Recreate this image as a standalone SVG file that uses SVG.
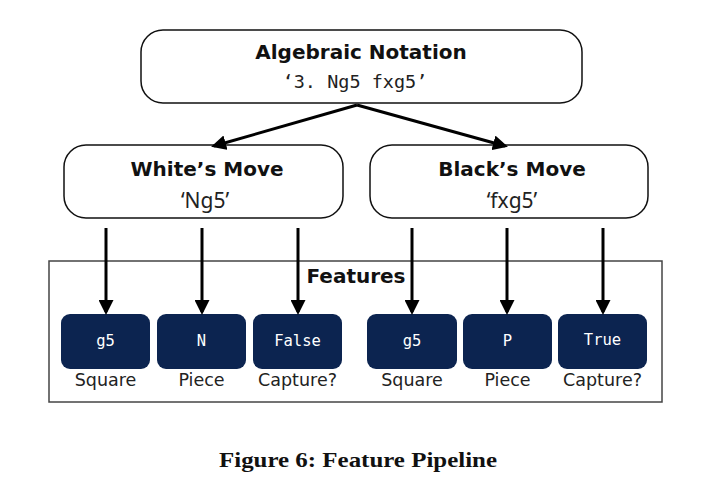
<svg xmlns="http://www.w3.org/2000/svg" width="719" height="496" viewBox="0 0 719 496">
<defs>
<marker id="ah" markerWidth="5" markerHeight="5" refX="4" refY="2.5" orient="auto" markerUnits="strokeWidth">
<path d="M0,0 L5,2.5 L0,5 Z" fill="#000"/>
</marker>
<style>
.node{fill:#fff;stroke:#111;stroke-width:1.5}
.feat{fill:#0c2450}
.h{font-family:"DejaVu Sans",Inter,sans-serif;font-weight:700;fill:#111;text-anchor:middle;font-size:20px}
.mono{font-family:"DejaVu Sans Mono","Liberation Mono",monospace;fill:#222;text-anchor:middle}
.mv{font-family:"Noto Sans","Open Sans",sans-serif;fill:#222;text-anchor:middle;font-size:21px}
.ft{font-family:"DejaVu Sans Mono","Liberation Mono",monospace;fill:#fff;text-anchor:middle;font-size:15.5px}
.lbl{font-family:"DejaVu Sans","Noto Sans",sans-serif;fill:#222;text-anchor:middle;font-size:17.5px}
.c{stroke:#000;stroke-width:3;fill:none;marker-end:url(#ah)}
</style>
</defs>
<rect width="719" height="496" fill="#fff"/>
<g id="algebraic">
<rect class="node" x="141" y="30" width="441" height="73" rx="22"/>
<text class="h" x="361" y="59">Algebraic Notation</text>
<text class="mono" x="355" y="88" font-size="18.5">‘3. Ng5 fxg5’</text>
</g>
<g id="white">
<rect class="node" x="64" y="145" width="279" height="73" rx="22"/>
<text class="h" x="207" y="176">White’s Move</text>
<text class="mv" x="205" y="208">‘Ng5’</text>
</g>
<g id="black">
<rect class="node" x="370" y="145" width="278" height="73" rx="22"/>
<text class="h" x="512" y="176">Black’s Move</text>
<text class="mv" x="512" y="208">‘fxg5’</text>
</g>
<g id="features">
<rect x="49" y="261" width="613" height="141" fill="none" stroke="#444" stroke-width="1.5"/>
<text class="h" x="356" y="283">Features</text>
</g>
<g id="f1"><rect class="feat" x="61" y="314" width="89" height="55" rx="9"/><text class="ft" x="105.5" y="346">g5</text><text class="lbl" x="105.5" y="386">Square</text></g>
<g id="f2"><rect class="feat" x="157" y="314" width="89" height="55" rx="9"/><text class="ft" x="201.5" y="346">N</text><text class="lbl" x="201.5" y="386">Piece</text></g>
<g id="f3"><rect class="feat" x="253" y="314" width="89" height="55" rx="9"/><text class="ft" x="297.5" y="346">False</text><text class="lbl" x="297.5" y="386">Capture?</text></g>
<g id="f4"><rect class="feat" x="367" y="314" width="90" height="55" rx="9"/><text class="ft" x="412" y="346">g5</text><text class="lbl" x="412" y="386">Square</text></g>
<g id="f5"><rect class="feat" x="463" y="314" width="89" height="55" rx="9"/><text class="ft" x="507.5" y="346">P</text><text class="lbl" x="507.5" y="386">Piece</text></g>
<g id="f6"><rect class="feat" x="558" y="314" width="89" height="55" rx="9"/><text class="ft" x="602.5" y="345">True</text><text class="lbl" x="602.5" y="386">Capture?</text></g>
<g id="connectors">
<path class="c" d="M357,105 L214,146"/>
<path class="c" d="M357,105 L505,146"/>
<path class="c" d="M106,228 L106,312"/>
<path class="c" d="M202,228 L202,312"/>
<path class="c" d="M298,228 L298,312"/>
<path class="c" d="M412,228 L412,312"/>
<path class="c" d="M507,228 L507,312"/>
<path class="c" d="M603,228 L603,312"/>
</g>
<text x="358" y="467" font-family="'Liberation Serif',serif" font-weight="700" font-size="21" fill="#111" text-anchor="middle" textLength="278" lengthAdjust="spacingAndGlyphs">Figure 6: Feature Pipeline</text>
</svg>
